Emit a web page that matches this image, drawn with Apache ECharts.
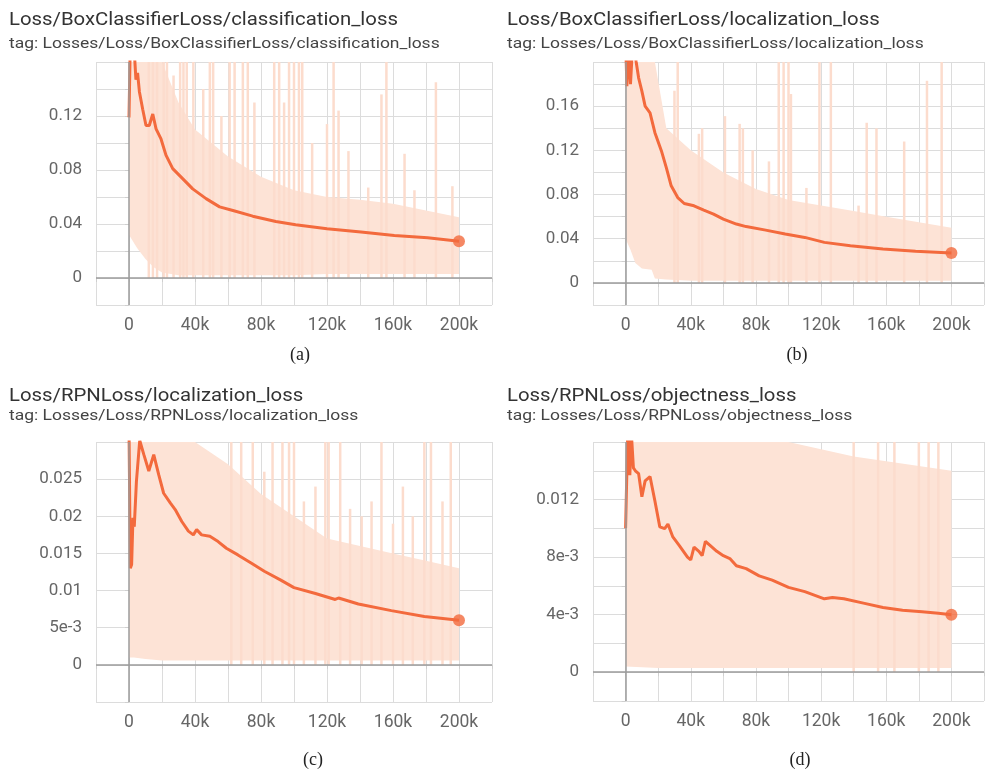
<!DOCTYPE html>
<html><head><meta charset="utf-8">
<script src="https://cdn.jsdelivr.net/npm/echarts@6/dist/echarts.min.js"></script>
<style>html,body{margin:0;padding:0;background:#fff}#c{width:987px;height:772px}</style>
</head><body><div id="c"></div>
<script>
// ---------- text ----------
const titles = ['Loss/BoxClassifierLoss/classification_loss','Loss/BoxClassifierLoss/localization_loss','Loss/RPNLoss/localization_loss','Loss/RPNLoss/objectness_loss'];
const tags = ['tag: Losses/Loss/BoxClassifierLoss/classification_loss','tag: Losses/Loss/BoxClassifierLoss/localization_loss','tag: Losses/Loss/RPNLoss/localization_loss','tag: Losses/Loss/RPNLoss/objectness_loss'];
const captions = ['(a)','(b)','(c)','(d)'];

// ---------- x axis ticks ----------
const xTickValues = [0,40000,80000,120000,160000,200000];
const xTickLabels = ['0','40k','80k','120k','160k','200k'];

// ---------- y axis ticks ----------
const yTickValuesA = [0,0.04,0.08,0.12];
const yTickLabelsA = ['0','0.04','0.08','0.12'];
const yTickValuesB = [0,0.04,0.08,0.12,0.16];
const yTickLabelsB = ['0','0.04','0.08','0.12','0.16'];
const yTickValuesC = [0,0.005,0.01,0.015,0.02,0.025];
const yTickLabelsC = ['0','5e-3','0.01','0.015','0.02','0.025'];
const yTickValuesD = [0,0.004,0.008,0.012];
const yTickLabelsD = ['0','4e-3','8e-3','0.012'];

// ---------- smoothed series [step, value] ----------
const smoothA = [[0,0.119],[800,0.175],[1800,0.162],[3000,0.172],[4200,0.147],[5200,0.152],[6300,0.138],[8300,0.125],[10300,0.113],[12300,0.113],[14400,0.1215],[16400,0.1105],[19400,0.103],[22400,0.091],[26500,0.081],[32500,0.0736],[38600,0.066],[46700,0.0588],[54900,0.0527],[63000,0.050],[75000,0.0458],[89000,0.0418],[101000,0.0395],[120000,0.0365],[140600,0.034],[160800,0.0315],[181000,0.0298],[200000,0.0273]];
const smoothB = [[0,0.22],[800,0.178],[1800,0.215],[3000,0.18],[4500,0.22],[6500,0.2],[8000,0.1857],[10000,0.1736],[12000,0.160],[15000,0.154],[18000,0.136],[22000,0.1195],[25000,0.1044],[28000,0.0879],[32000,0.0773],[36000,0.0719],[42000,0.0698],[48000,0.0659],[54000,0.0623],[60000,0.0578],[68000,0.0533],[74000,0.051],[86000,0.0478],[98000,0.0442],[110000,0.0412],[122000,0.0367],[138000,0.0337],[158000,0.0307],[178000,0.0286],[200000,0.027]];
const smoothC = [[0,0.032],[800,0.013],[1600,0.0135],[2400,0.0198],[3200,0.0186],[4500,0.0247],[6500,0.0302],[9000,0.0283],[12000,0.0261],[15000,0.0283],[18000,0.0256],[21000,0.0231],[25000,0.0218],[28000,0.0209],[32000,0.0193],[36000,0.018],[39000,0.0175],[41000,0.0182],[44000,0.0175],[49000,0.0173],[54000,0.0166],[59000,0.0157],[66000,0.0148],[74000,0.0137],[82000,0.0126],[92000,0.0114],[100000,0.0104],[113000,0.0096],[125000,0.0088],[127000,0.009],[139000,0.0082],[159000,0.0073],[179000,0.0065],[200000,0.006]];
const smoothD = [[0,0.01],[800,0.0099],[1600,0.018],[2600,0.0137],[3600,0.0165],[4800,0.0142],[6000,0.014],[8000,0.0138],[10000,0.0122],[12000,0.0133],[15000,0.0136],[18000,0.0119],[21000,0.0101],[24000,0.00998],[26000,0.0103],[29000,0.0094],[33000,0.0088],[38000,0.008],[40000,0.0078],[42000,0.0087],[45000,0.0084],[47000,0.0081],[49000,0.0091],[52000,0.0088],[56000,0.0084],[60000,0.0081],[64000,0.0079],[68000,0.0074],[74000,0.0072],[82000,0.0067],[90000,0.0064],[100000,0.0059],[110000,0.0056],[122000,0.0051],[127000,0.0052],[134000,0.0051],[146000,0.0048],[158000,0.0045],[170000,0.0043],[182000,0.0042],[192000,0.0041],[200000,0.004]];

// ---------- raw data envelope (light band) ----------
const rawStepsA = [0,2000,5000,10000,15000,20000,30000,40000,60000,80000,100000,120000,140000,160000,180000,200000];
const rawLowA   = [0.032,0.028,0.022,0.014,0.008,0.004,0.002,0.002,0.002,0.002,0.002,0.003,0.003,0.003,0.003,0.003];
const rawHighA  = [0.16,0.16,0.16,0.16,0.16,0.16,0.13,0.11,0.09,0.075,0.065,0.06,0.058,0.055,0.05,0.045];
const rawStepsB = [0,3000,6000,10000,16000,18000,25000,40000,60000,80000,100000,120000,140000,160000,180000,200000];
const rawLowB   = [0.04,0.03,0.018,0.013,0.012,0.004,0.003,0.002,0.002,0.002,0.002,0.002,0.002,0.002,0.002,0.002];
const rawHighB  = [0.2,0.2,0.2,0.2,0.2,0.2,0.14,0.12,0.1,0.085,0.075,0.07,0.065,0.06,0.055,0.05];
const rawStepsC = [0,3000,10000,20000,40000,60000,80000,100000,120000,140000,160000,180000,200000];
const rawLowC   = [0.001,0.001,0.0008,0.0006,0.0006,0.0006,0.0006,0.0006,0.0006,0.0006,0.0006,0.0006,0.0006];
const rawHighC  = [0.03,0.03,0.03,0.03,0.03,0.027,0.023,0.02,0.017,0.016,0.015,0.014,0.013];
const rawStepsD = [0,20000,100000,140000,200000];
const rawLowD   = [0.0004,0.0003,0.0003,0.0003,0.0003];
const rawHighD  = [0.016,0.016,0.016,0.015,0.014];

// ---------- raw data spikes [step, peak] ----------
const spikesA = [[12000,0.16],[14500,0.16],[17000,0.16],[21000,0.16],[23000,0.16],[27000,0.15],[31000,0.16],[33000,0.16],[35000,0.16],[39000,0.16],[45000,0.14],[49000,0.16],[51000,0.16],[56000,0.12],[61000,0.16],[64000,0.16],[69000,0.16],[72000,0.16],[76000,0.13],[88000,0.16],[91000,0.16],[94000,0.13],[97000,0.16],[100000,0.16],[103000,0.16],[105000,0.16],[111000,0.1],[120000,0.114],[124000,0.16],[127000,0.124],[133000,0.094],[145000,0.067],[153000,0.136],[156000,0.16],[167000,0.092],[173000,0.065],[186000,0.145],[196000,0.068]];
const spikesB = [[30000,0.174],[32000,0.2],[45000,0.135],[47000,0.14],[61000,0.151],[70000,0.144],[72000,0.14],[78000,0.12],[88000,0.11],[94000,0.2],[97000,0.2],[100000,0.2],[101500,0.171],[111000,0.086],[119000,0.2],[126000,0.2],[143000,0.07],[148000,0.145],[154000,0.14],[171000,0.128],[185000,0.183],[194000,0.2]];
const spikesC = [[62000,0.03],[68000,0.03],[75000,0.03],[82000,0.026],[87000,0.03],[93000,0.03],[97000,0.03],[100000,0.03],[106000,0.022],[113000,0.024],[119000,0.03],[121000,0.03],[128000,0.03],[134000,0.021],[141000,0.02],[147000,0.022],[153000,0.03],[160000,0.019],[166000,0.024],[172000,0.02],[179000,0.03],[183000,0.03],[190000,0.022],[195000,0.03]];
const spikesD = [[140000,0.016],[155000,0.016],[165000,0.016],[180000,0.016],[186000,0.016],[192000,0.016]];

// ---------- y axis ranges ----------
const yMins = [-0.02,-0.02,-0.005,-0.002];
const yMaxs = [0.16,0.2,0.03,0.016];
const yIntervals = [0.02,0.02,0.005,0.002];
const xMin = -20000, xMax = 220000, xInterval = 20000;

// ---------- assemble ----------
const panels = [
  {smooth:smoothA, steps:rawStepsA, low:rawLowA, high:rawHighA, spikes:spikesA, tv:yTickValuesA, tl:yTickLabelsA},
  {smooth:smoothB, steps:rawStepsB, low:rawLowB, high:rawHighB, spikes:spikesB, tv:yTickValuesB, tl:yTickLabelsB},
  {smooth:smoothC, steps:rawStepsC, low:rawLowC, high:rawHighC, spikes:spikesC, tv:yTickValuesC, tl:yTickLabelsC},
  {smooth:smoothD, steps:rawStepsD, low:rawLowD, high:rawHighD, spikes:spikesD, tv:yTickValuesD, tl:yTickLabelsD}
];
const layout = [
  {left:96, top:62, width:396, height:243, tx:9, ty:20, gy:44.5, cx:300, cy:355},
  {left:593, top:62, width:397, height:243, tx:507, ty:20, gy:44.5, cx:797, cy:355},
  {left:96, top:442, width:396, height:260, tx:9, ty:396, gy:416.5, cx:313, cy:760},
  {left:593, top:442, width:397, height:259, tx:507, ty:396, gy:416.5, cx:800, cy:760}
];

const FONT = 'Roboto, "Liberation Sans", sans-serif';
const LINE = '#f36a3d';
const BAND = '#fde3d6';
const SPIKE = '#fcdccd';
const GRIDC = '#dcdcdc';

function lookup(vals, labels, v) {
  for (let i = 0; i < vals.length; i++) if (Math.abs(vals[i] - v) < 1e-9) return labels[i];
  return '';
}

const grid = [], xAxis = [], yAxis = [], series = [], graphic = [];
panels.forEach((p, i) => {
  const L = layout[i];
  grid.push({left:L.left, top:L.top, width:L.width, height:L.height, containLabel:false});
  xAxis.push({type:'value', gridIndex:i, min:xMin, max:xMax, interval:xInterval,
    axisLine:{show:false},
    axisTick:{show:true, length:4, lineStyle:{color:'#cfcfcf'}},
    splitLine:{show:true, lineStyle:{color:GRIDC, width:1}},
    axisLabel:{margin:12, color:'#666', fontSize:17.5, fontFamily:FONT,
      formatter:v => lookup(xTickValues, xTickLabels, v)}});
  yAxis.push({type:'value', gridIndex:i, min:yMins[i], max:yMaxs[i], interval:yIntervals[i],
    axisLine:{show:false},
    axisTick:{show:true, length:4, lineStyle:{color:'#cfcfcf'}},
    splitLine:{show:true, lineStyle:{color:GRIDC, width:1}},
    axisLabel:{margin:14, color:'#666', fontSize:17, fontFamily:FONT,
      formatter:v => lookup(p.tv, p.tl, v)}});
  // raw-data envelope drawn as a polygon through the axes' coordinate mapping
  series.push({type:'custom', xAxisIndex:i, yAxisIndex:i, silent:true, z:1, clip:true,
    data:[[p.steps[0], p.low[0]]],
    renderItem:(params, api) => {
      const pts = [];
      p.steps.forEach((s,k) => pts.push(api.coord([s, p.high[k]])));
      for (let k = p.steps.length - 1; k >= 0; k--) pts.push(api.coord([p.steps[k], p.low[k]]));
      return {type:'polygon', shape:{points:pts}, style:{fill:BAND}};
    }});
  series.push({type:'bar', xAxisIndex:i, yAxisIndex:i, barWidth:2.5, silent:true, z:1,
    itemStyle:{color:SPIKE}, data:p.spikes});
  series.push({type:'line', xAxisIndex:i, yAxisIndex:i, data:[], z:2, silent:true,
    markLine:{silent:true, symbol:['none','none'], label:{show:false}, animation:false,
      lineStyle:{color:'#9b9b9b', type:'solid', width:1.5},
      data:[{yAxis:0},{xAxis:0}]}});
  series.push({type:'line', xAxisIndex:i, yAxisIndex:i, symbol:'none', z:3, clip:true,
    lineStyle:{color:LINE, width:3}, data:p.smooth});
  series.push({type:'scatter', xAxisIndex:i, yAxisIndex:i, symbolSize:12, z:4,
    itemStyle:{color:LINE}, data:[p.smooth[p.smooth.length-1]]});
  graphic.push({type:'text', x:L.tx, y:L.ty, scaleX:1.13, style:{text:titles[i], fill:'#333', font:'18px '+FONT, textVerticalAlign:'middle'}});
  graphic.push({type:'text', x:L.tx, y:L.gy, scaleX:1.165, style:{text:tags[i], fill:'#444', font:'15px '+FONT, textVerticalAlign:'middle'}});
  graphic.push({type:'text', x:L.cx, y:L.cy, style:{text:captions[i], fill:'#222', font:'18px "Liberation Serif", serif', textAlign:'center', textVerticalAlign:'middle'}});
});

const chart = echarts.init(document.getElementById('c'), null, {renderer:'canvas'});
chart.setOption({animation:false, backgroundColor:'#fff', grid, xAxis, yAxis, series, graphic});
</script>
</body></html>
